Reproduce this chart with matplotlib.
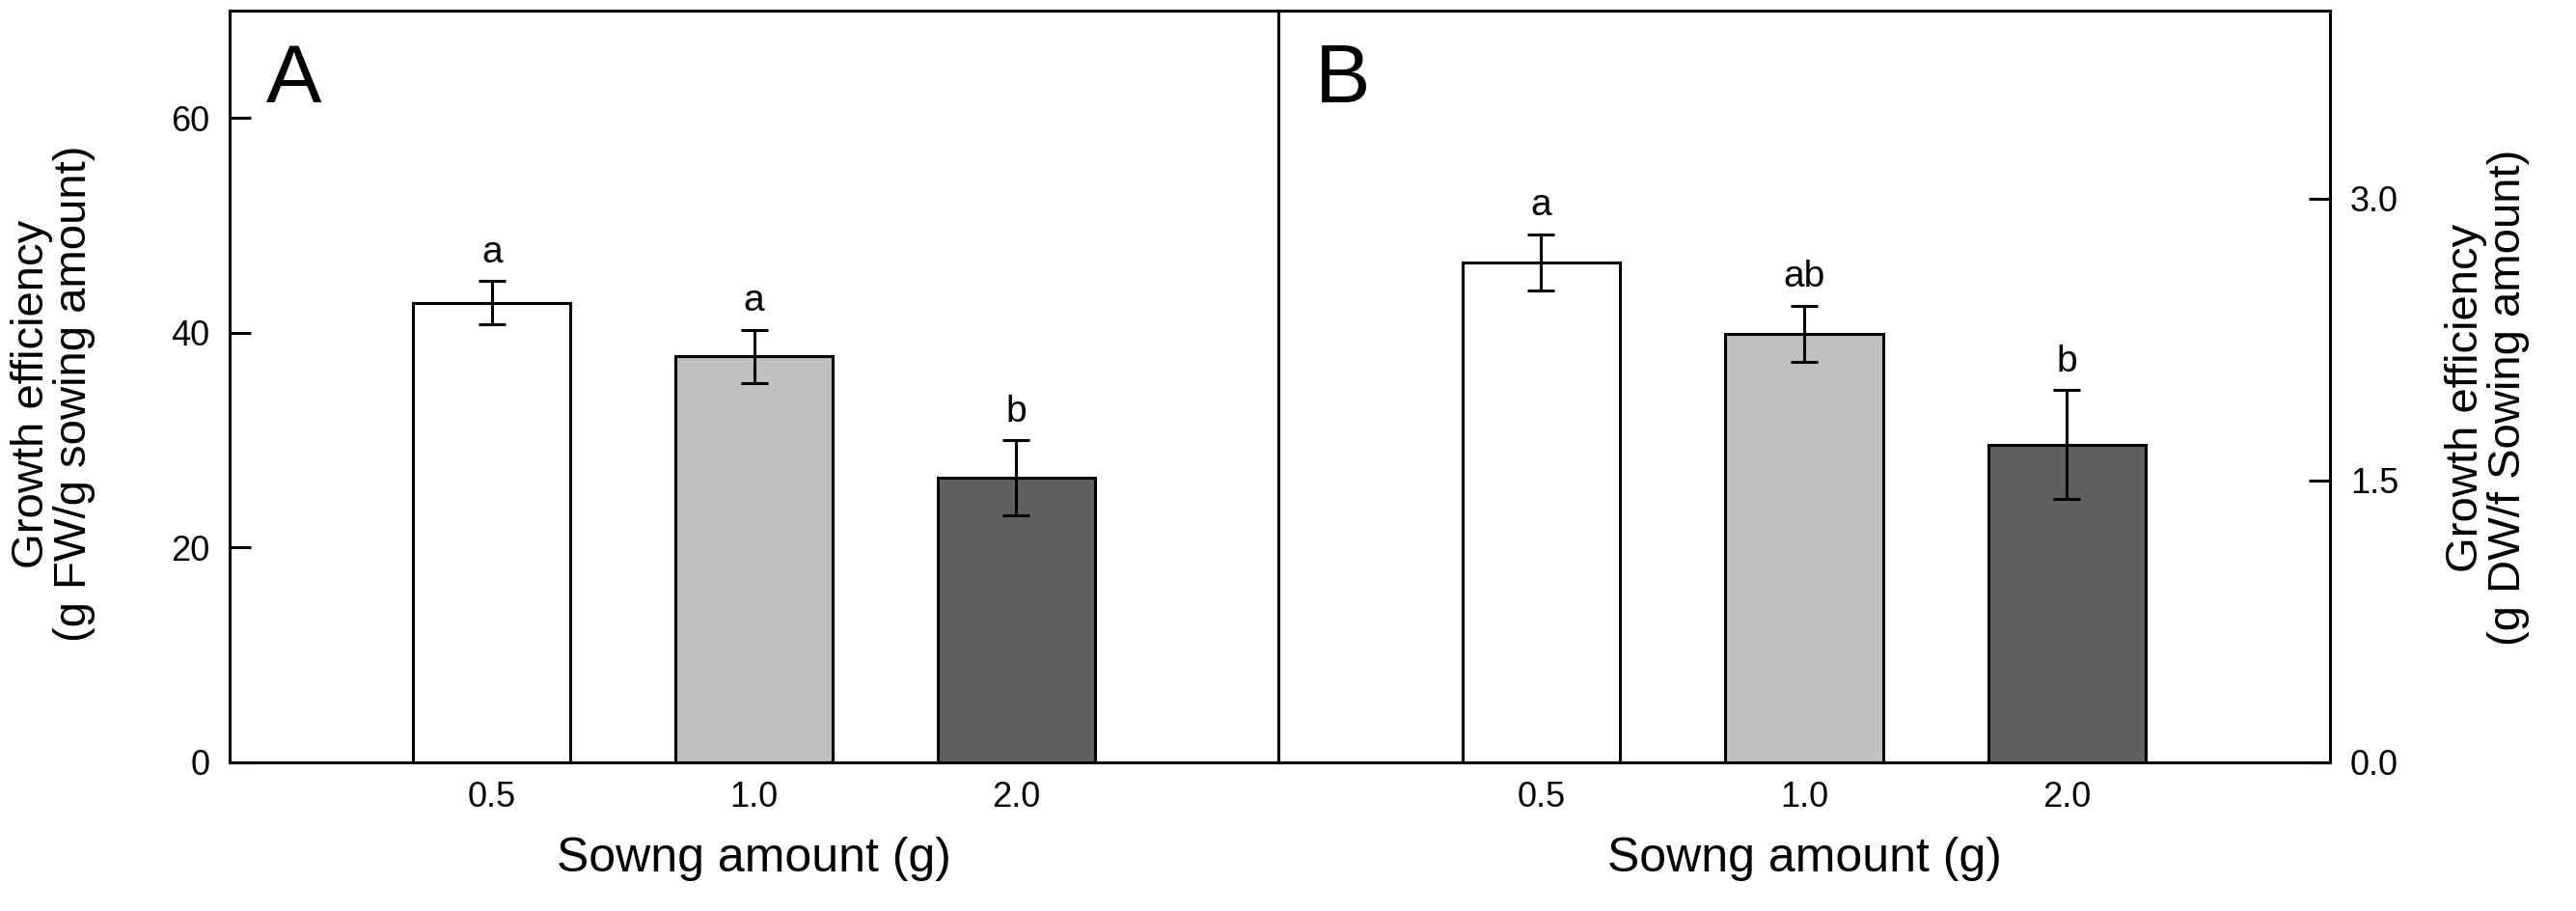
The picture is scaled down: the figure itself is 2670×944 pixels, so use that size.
import matplotlib
matplotlib.use("Agg")
import matplotlib.pyplot as plt
import numpy as np

plt.rcParams['font.family'] = ['Liberation Sans', 'DejaVu Sans']

# ---- data ----
categories = ['0.5', '1.0', '2.0']
fw_means = [42.8, 37.8, 26.5]
fw_err = [2.0, 2.5, 3.5]
dw_means = [2.66, 2.28, 1.69]
dw_err = [0.15, 0.15, 0.29]
letters_A = ['a', 'a', 'b']
letters_B = ['a', 'ab', 'b']
bar_colors = ['#ffffff', '#c0c0c0', '#606060']

fig = plt.figure(figsize=(26.7, 9.44), dpi=100)
axA = fig.add_axes([0.08914, 0.16314, 0.40712, 0.82521])
axB = fig.add_axes([0.49625, 0.16314, 0.40824, 0.82521])

x = np.arange(len(categories))


def draw(ax, means, errs, letters, ylim, yticks, yticklabels, panel):
    ax.bar(x, means, width=0.6, color=bar_colors, edgecolor='black',
           linewidth=2.2, zorder=2)
    ax.errorbar(x, means, yerr=errs, fmt='none', ecolor='black',
                elinewidth=2.2, capsize=10, capthick=2.2, zorder=3)
    for xi, m, e, lab in zip(x, means, errs, letters):
        ax.annotate(lab, (xi, m + e), xytext=(0, 14), textcoords='offset points',
                    ha='center', va='baseline', fontsize=28)
    ax.set_xlim(-1, 3)
    ax.set_ylim(*ylim)
    ax.set_yticks(yticks)
    ax.set_yticklabels(yticklabels)
    ax.set_xticks(x)
    ax.set_xticklabels(categories)
    ax.tick_params(axis='x', length=0, pad=14, labelsize=26)
    ax.tick_params(axis='y', direction='in', length=16, width=2.2,
                   pad=15, labelsize=26)
    for s in ax.spines.values():
        s.set_linewidth(2.2)
    ax.set_xlabel('Sowng amount (g)', fontsize=36, labelpad=16)
    ax.text(0.035, 0.958, panel, transform=ax.transAxes, ha='left', va='top',
            fontsize=62)


draw(axA, fw_means, fw_err, letters_A, (0, 70), [0, 20, 40, 60],
     ['0', '20', '40', '60'], 'A')
draw(axB, dw_means, dw_err, letters_B, (0, 4.0), [0.0, 1.5, 3.0],
     ['0.0', '1.5', '3.0'], 'B')

axA.tick_params(axis='y', left=True, right=False)
axB.tick_params(axis='y', left=False, right=True, labelleft=False,
                labelright=True)

axA.set_ylabel('Growth efficiency\n(g FW/g sowing amount)', fontsize=34,
               linespacing=1.0)
axA.yaxis.set_label_coords(-0.168, 0.49)
axA.yaxis.label.set_va('center')

axB.yaxis.set_label_position('right')
axB.set_ylabel('Growth efficiency\n(g DW/f Sowing amount)', fontsize=34,
               linespacing=1.0, rotation=90)
axB.yaxis.set_label_coords(1.15, 0.485)
axB.yaxis.label.set_va('center')

fig.savefig('out.png', dpi=100)
